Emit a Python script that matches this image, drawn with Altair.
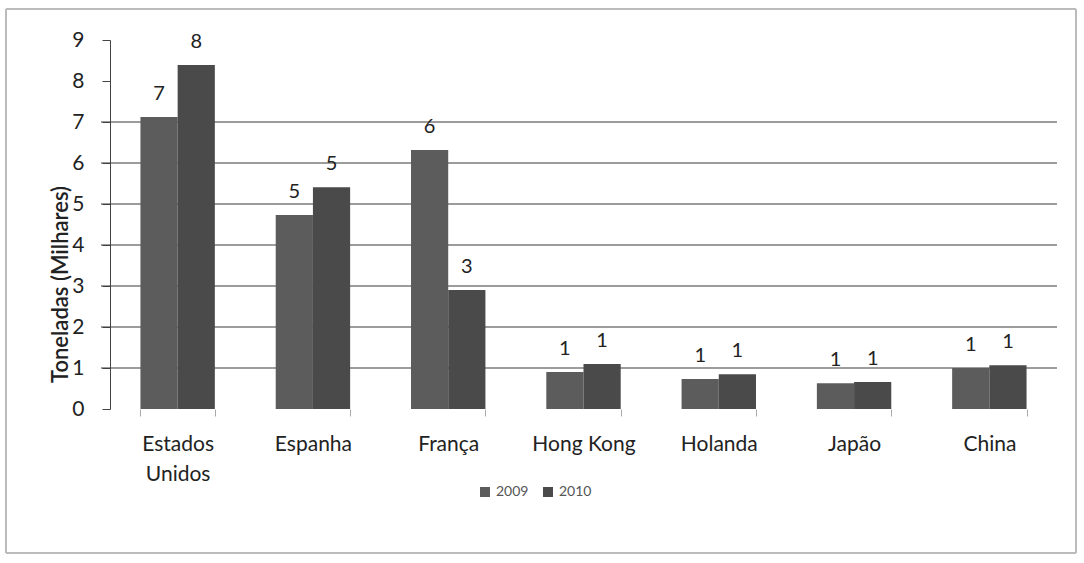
import altair as alt
import pandas as pd

countries = ["Estados Unidos", "Espanha", "França", "Hong Kong", "Holanda", "Japão", "China"]
v2009 = [7.12, 4.73, 6.32, 0.90, 0.73, 0.63, 1.00]
v2010 = [8.39, 5.41, 2.90, 1.10, 0.85, 0.66, 1.07]
years = ["2009", "2010"]
grid_values = [1, 2, 3, 4, 5, 6, 7]
y_ticks = [0, 1, 2, 3, 4, 5, 6, 7, 8, 9]

rows = []
for c, a, b in zip(countries, v2009, v2010):
    rows.append({"pais": c, "ano": years[0], "valor": a})
    rows.append({"pais": c, "ano": years[1], "valor": b})
df = pd.DataFrame(rows)
grid_df = pd.DataFrame({"g": grid_values})

FONT = "Lato"

xenc = alt.X("pais:N", sort=countries, title=None,
             scale=alt.Scale(paddingInner=0.45, paddingOuter=0.225),
             axis=alt.Axis(labelAngle=0, labelFontSize=21, labelColor="#222",
                           labelFont=FONT, labelPadding=17, domain=False,
                           ticks=True, tickColor="#aaa", tickSize=7, tickBand="extent",
                           labelExpr="datum.label == 'Estados Unidos' ? ['Estados', 'Unidos'] : datum.label",
                           labelLineHeight=30))
yscale = alt.Scale(domain=[0, 9], nice=False)

grid = alt.Chart(grid_df).mark_rule(color="#3a3a3a", strokeWidth=1.2).encode(
    y=alt.Y("g:Q", scale=yscale),
    x=alt.value(-9), x2=alt.value(947),
)

bars = alt.Chart(df).mark_bar().encode(
    x=xenc,
    xOffset=alt.XOffset("ano:N", sort=years),
    y=alt.Y("valor:Q", scale=yscale,
            title="Toneladas (Milhares)",
            axis=alt.Axis(values=y_ticks, grid=False, labelFontSize=21, labelColor="#222",
                          labelFont=FONT, titleFont=FONT, titleFontSize=22, titleFontWeight=600,
                          titleColor="#222", domainColor="#444", tickColor="#444", tickSize=8,
                          labelPadding=18, titleAngle=270, titleX=-38, titleY=244,
                          titleBaseline="bottom", titleAlign="center")),
    color=alt.Color("ano:N", sort=years,
                    scale=alt.Scale(domain=years, range=["#5c5c5c", "#4a4a4a"]),
                    legend=alt.Legend(title=None, orient="none", legendX=368, legendY=445,
                                      direction="horizontal", symbolType="square",
                                      symbolSize=100, labelFontSize=14, labelColor="#555",
                                      labelFont=FONT, columnPadding=12, symbolStrokeWidth=0)),
)

text = alt.Chart(df).mark_text(baseline="bottom", dy=-13, fontSize=20, font=FONT, color="#222").encode(
    x=alt.X("pais:N", sort=countries),
    xOffset=alt.XOffset("ano:N", sort=years),
    y=alt.Y("valor:Q", scale=yscale),
    text=alt.Text("valor:Q", format=".0f"),
)

frame = alt.Chart(grid_df).mark_rect(fill=None, stroke="#bbb", strokeWidth=1).encode(
    x=alt.value(-104), x2=alt.value(966), y=alt.value(-31), y2=alt.value(513),
)

chart = alt.layer(frame, grid, bars, text).properties(
    width=947, height=369,
    autosize=alt.AutoSizeParams(type="none"),
    padding={"left": 110, "top": 40, "right": 27, "bottom": 154},
    background="white",
).configure_view(stroke=None)

chart.save("out.html", embed_options={"renderer": "svg", "actions": False})
